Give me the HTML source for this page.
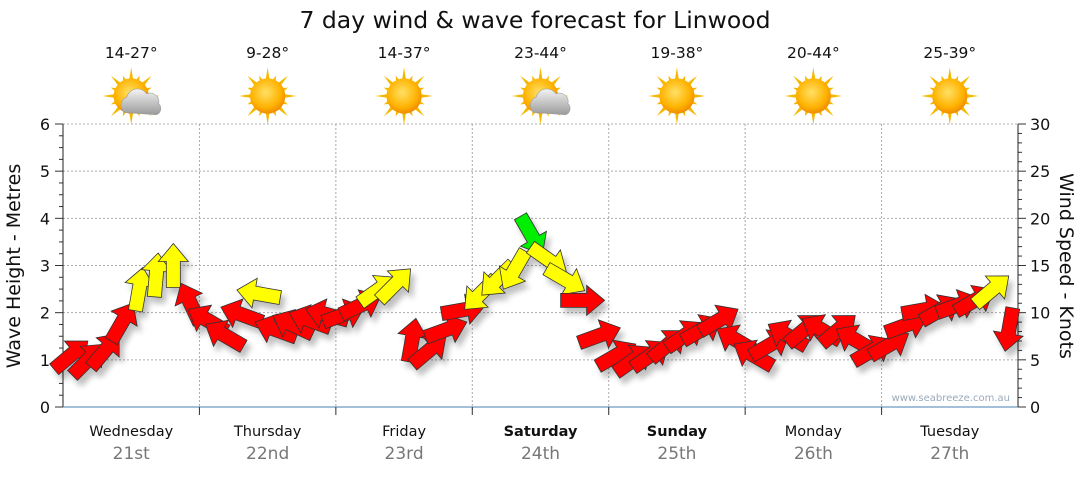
<!DOCTYPE html>
<html><head><meta charset="utf-8"><style>
body{margin:0;background:#fff;font-family:"DejaVu Sans","Liberation Sans",sans-serif;}
svg text{font-family:"DejaVu Sans","Liberation Sans",sans-serif;}
</style></head><body>
<svg id="chart" width="1080" height="475" viewBox="0 0 1080 475">
<defs>
<filter id="sh" x="-50%" y="-50%" width="200%" height="200%"><feGaussianBlur in="SourceAlpha" stdDeviation="3"/><feOffset dx="4" dy="6"/><feComponentTransfer><feFuncA type="linear" slope="0.25"/></feComponentTransfer><feMerge><feMergeNode/><feMergeNode in="SourceGraphic"/></feMerge></filter>
<radialGradient id="sun" cx="45%" cy="40%" r="60%"><stop offset="0" stop-color="#ffe066"/><stop offset="0.7" stop-color="#ffb300"/><stop offset="1" stop-color="#f08c00"/></radialGradient>
<linearGradient id="cloud" x1="0" y1="0" x2="0" y2="1"><stop offset="0" stop-color="#f4f4f4"/><stop offset="1" stop-color="#9a9a9a"/></linearGradient>
</defs>
<text x="535" y="28" font-size="23.5" text-anchor="middle" fill="#111">7 day wind &amp; wave forecast for Linwood</text>
<g id="grid"></g><g id="axes"></g><g id="header"></g><g id="marks" filter="url(#sh)"></g>
<text x="1010" y="401" font-size="10" text-anchor="end" fill="#99aabb">www.seabreeze.com.au</text>
<text transform="translate(20,266) rotate(-90)" font-size="19" text-anchor="middle" fill="#111">Wave Height - Metres</text>
<text transform="translate(1060,266) rotate(90)" font-size="19" text-anchor="middle" fill="#111">Wind Speed - Knots</text>
</svg>
<script>
const days=["Wednesday","Thursday","Friday","Saturday","Sunday","Monday","Tuesday"];
const dates=["21st","22nd","23rd","24th","25th","26th","27th"];
const temps=["14-27°","9-28°","14-37°","23-44°","19-38°","20-44°","25-39°"];
const cloudy=[true,false,false,true,false,false,false];
const leftTicks=[0,1,2,3,4,5,6];
const rightTicks=[0,5,10,15,20,25,30];
const windSpeed=[5.5,5,6,9,12.5,14,15,11, 9.2,7.6,9.8,12,8.2,8.7,9.2,9.8, 9.8,10.8,12.4,13,7.1,6,8.2,10.3, 12,13.5,14.5,18.2,15.6,13.5,11.3,7.6, 5.5,5,5.5,6.6,7.6,8.2,9.2,7.1, 5.5,6.6,7.6,8.2,8.2,8.2,7.1,6, 6.6,8.7,10.3,10.3,10.8,11.3,12.4,8.2];
const windDir=[-40,-45,-50,-60,-80,-85,-90,-115, -150,-150,-160,-170,-160,-155,-160,-165, -20,-25,-35,-45,-80,-40,-20,-10, 135,135,120,60,35,30,0,-20, -30,-35,-35,-40,-35,-30,-30,-150, -150,-30,-150,-40,-150,-40,-150,-30, -30,-20,-10,-30,-20,-30,-40,100];
const X0=63,X1=1018,Y0=407,Y1=124;
const dayW=(X1-X0)/7;
const xs=i=>X0+8+i*dayW/8;
const yL=v=>Y0-(v/6)*(Y0-Y1);
const yR=v=>Y0-(v/30)*(Y0-Y1);
const NS="http://www.w3.org/2000/svg";
function mk(t,a,p){const e=document.createElementNS(NS,t);for(const k in a)e.setAttribute(k,a[k]);p.appendChild(e);return e;}
const grid=document.getElementById('grid'),axes=document.getElementById('axes'),hdr=document.getElementById('header'),marks=document.getElementById('marks');
leftTicks.forEach(v=>{if(v>0){const l=mk('line',{x1:X0,x2:X1,y1:yL(v),y2:yL(v),stroke:'#aaa','stroke-dasharray':'2,2'},grid);

}
const t=mk('text',{x:50,y:yL(v)+6,'font-size':16,'text-anchor':'end',fill:'#111'},axes);t.textContent=v;

});
for(let v=0;v<=6;v+=0.25){mk('line',{x1:X0-(v%1===0?8:4),x2:X0,y1:yL(v),y2:yL(v),stroke:'#333'},axes);}
rightTicks.forEach(v=>{const t=mk('text',{x:1030,y:yR(v)+6,'font-size':16,fill:'#111'},axes);t.textContent=v;

});
for(let v=0;v<=30;v+=1){mk('line',{x1:X1,x2:X1+(v%5===0?8:4),y1:yR(v),y2:yR(v),stroke:'#333'},axes);}
mk('line',{x1:X0,x2:X0,y1:Y1,y2:Y0,stroke:'#222'},axes);
mk('line',{x1:X1,x2:X1,y1:Y1,y2:Y0,stroke:'#222'},axes);
mk('line',{x1:X0,x2:X1,y1:Y0,y2:Y0,stroke:'#4a7fb0'},axes);
days.forEach((d,i)=>{const cx=X0+dayW*(i+0.5);
if(i>0){const g=mk('line',{x1:X0+dayW*i,x2:X0+dayW*i,y1:Y1,y2:Y0+6,stroke:'#aaa','stroke-dasharray':'2,2'},grid);


mk('line',{x1:X0+dayW*i,x2:X0+dayW*i,y1:Y0,y2:Y0+8,stroke:'#333'},axes);}
const t=mk('text',{x:cx,y:436,'font-size':14.5,'text-anchor':'middle',fill:'#111','font-weight':(i==3||i==4)?'bold':'normal'},axes);t.textContent=d;


const t2=mk('text',{x:cx,y:459,'font-size':17,'text-anchor':'middle',fill:'#777'},axes);t2.textContent=dates[i];


const t3=mk('text',{x:cx,y:58,'font-size':15.5,'text-anchor':'middle',fill:'#111'},hdr);t3.textContent=temps[i];


const g=mk('g',{transform:`translate(${cx},96) scale(1.1)`},hdr);


for(let k=0;k<16;k++){const a=k*Math.PI/8,L=k%2?20:26;mk('polygon',{points:`${Math.cos(a-0.14)*14},${Math.sin(a-0.14)*14} ${Math.cos(a)*L},${Math.sin(a)*L} ${Math.cos(a+0.14)*14},${Math.sin(a+0.14)*14}`,fill:'#f5b800'},g);}
mk('circle',{r:16,fill:'url(#sun)'},g);
if(cloudy[i]){mk('path',{d:'M-6,15 a8,8 0 0 1 2,-14 a10,10 0 0 1 18,-3 a8,8 0 0 1 11,9 a6,6 0 0 1 -2,10 z',fill:'url(#cloud)',stroke:'#999','stroke-width':0.5},g);}
});
const colorFor=s=>s>=17?'#00ee00':(s>=11.8?'#ffff00':'#ff0000');
windSpeed.forEach((s,i)=>{const x=xs(i),y=yR(s);
const a=mk('polygon',{points:'-22,-7 4,-7 4,-15 22,0 4,15 4,7 -22,7',fill:colorFor(s),stroke:'#333','stroke-width':0.8,transform:`translate(${x},${y}) rotate(${windDir[i]})`},marks);

});
</script>
</body></html>
